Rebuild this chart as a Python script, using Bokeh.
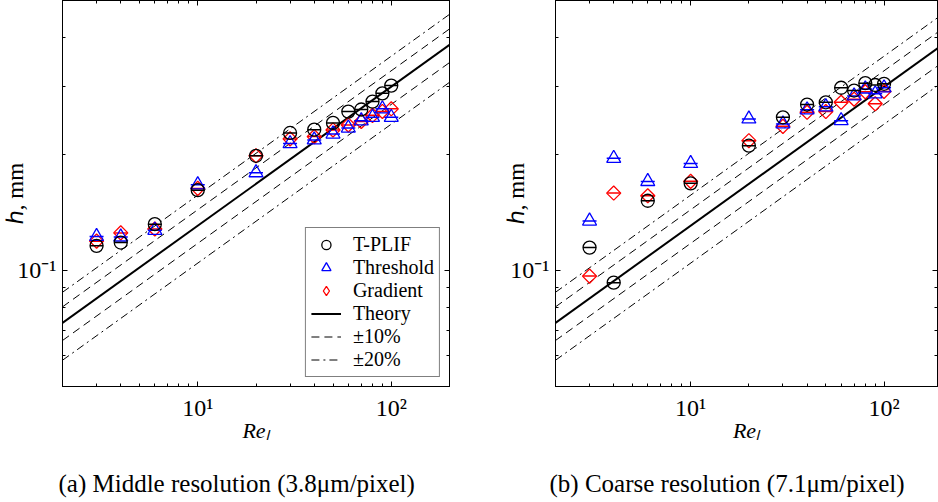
import numpy as np
from bokeh.plotting import figure
from bokeh.models import (FixedTicker, LogAxis, Legend, LegendItem, Range1d, Title)
from bokeh.layouts import row
from bokeh.embed import file_html
from bokeh.resources import INLINE

# Liquid Reynolds numbers of the measured cases
re_l = [3, 4, 6, 10, 20, 30, 40, 50, 60, 70, 80, 90, 100]

# Film thickness h (mm), middle resolution (3.8 um/pixel)
mid_tplif = [0.1157, 0.118, 0.1317, 0.1613, 0.198, 0.2269, 0.2314, 0.2409, 0.2577, 0.261, 0.2736, 0.2874, 0.301]
mid_threshold = [0.1224, 0.122, 0.127, 0.1666, 0.179, 0.213, 0.2177, 0.2255, 0.2337, 0.244, 0.249, 0.262, 0.249]
mid_gradient = [0.119, 0.125, 0.128, 0.163, 0.198, 0.219, 0.222, 0.231, 0.238, 0.243, 0.252, 0.258, 0.262]

# Film thickness h (mm), coarse resolution (7.1 um/pixel)
coarse_tplif = [0.1145, 0.0929, 0.1514, 0.168, 0.2103, 0.2491, 0.2688, 0.2724, 0.2971, 0.2922, 0.3054, 0.302, 0.3042]
coarse_threshold = [0.1342, 0.195, 0.1699, 0.1892, 0.2467, 0.2395, 0.2604, 0.2653, 0.2442, 0.283, 0.295, 0.2866, 0.297]
coarse_gradient = [0.0966, 0.1585, 0.156, 0.170, 0.2167, 0.236, 0.2567, 0.2578, 0.2724, 0.2775, 0.290, 0.270, 0.2907]

# Theoretical film thickness (straight line in log-log space)
theory_re = [2, 200]
theory_h = [0.0731, 0.3836]

# Ticks
x_major = [10, 100]
x_minor = [2, 3, 4, 5, 6, 7, 8, 9, 20, 30, 40, 50, 60, 70, 80, 90, 200]
y_major = [0.1]
y_minor = [0.05, 0.06, 0.07, 0.08, 0.09, 0.2, 0.3, 0.4, 0.5]
x_tick_labels = {10: "10\u00b9", 100: "10\u00b2"}
y_tick_labels = {0.1: "10\u207b\u00b9"}

SERIF = "Liberation Serif"
FRAME_H = 386


def style_axis(ax, ticks, minor, overrides, size, standoff):
    ax.ticker = FixedTicker(ticks=ticks, minor_ticks=minor)
    ax.axis_line_color = "black"
    ax.major_tick_line_color = "black"
    ax.minor_tick_line_color = "black"
    ax.major_tick_in = 5
    ax.major_tick_out = 0
    ax.minor_tick_in = 3
    ax.minor_tick_out = 0
    ax.major_label_text_font = SERIF
    ax.major_label_text_color = "black"
    ax.major_label_text_font_size = size
    ax.major_label_standoff = standoff
    ax.major_label_overrides = overrides


def make_panel(tplif, thresh, grad, width, border_left, border_right, x_end,
               ylabel_standoff, caption, caption_offset, with_legend):
    p = figure(width=width, height=502, x_axis_type="log", y_axis_type="log",
               x_range=Range1d(2, x_end), y_range=Range1d(0.05, 0.5),
               output_backend="svg", toolbar_location=None,
               min_border_left=border_left, min_border_right=border_right,
               min_border_top=0, min_border_bottom=502 - FRAME_H)
    p.grid.visible = False
    p.outline_line_color = "black"
    p.outline_line_width = 1
    p.background_fill_color = "white"
    p.border_fill_color = "white"

    xax = p.xaxis[0]
    yax = p.yaxis[0]
    style_axis(xax, x_major, x_minor, x_tick_labels, "24px", 8)
    style_axis(yax, y_major, y_minor, y_tick_labels, "24px", 6)
    xax.axis_label = "Re\u2097"
    xax.axis_label_text_font = SERIF
    xax.axis_label_text_font_style = "italic"
    xax.axis_label_text_font_size = "22px"
    xax.axis_label_text_color = "black"
    xax.axis_label_standoff = -6
    yax.axis_label = "\u210e, mm"
    yax.axis_label_text_font = SERIF
    yax.axis_label_text_font_style = "normal"
    yax.axis_label_text_font_size = "23px"
    yax.axis_label_text_color = "black"
    yax.axis_label_standoff = ylabel_standoff

    top = LogAxis()
    right = LogAxis()
    style_axis(top, x_major, x_minor, {t: "" for t in x_major}, "1px", 0)
    style_axis(right, y_major, y_minor, {t: "" for t in y_major}, "1px", 0)
    p.add_layout(top, "above")
    p.add_layout(right, "right")

    # blank strip between the axis title and the sub-figure caption
    p.add_layout(Title(text=" ", text_font=SERIF, text_font_size="5px"), "below")
    # sub-figure caption
    p.add_layout(Title(text=caption, align="left", offset=caption_offset,
                       text_font=SERIF, text_font_size="25px", text_font_style="normal",
                       text_color="black"), "below")

    # theory and tolerance bands
    r_theory = p.line(theory_re, theory_h, line_color="black", line_width=2)
    r_p10 = p.line(theory_re, [h * 1.1 for h in theory_h], line_color="black",
                   line_width=1, line_dash="8 5")
    p.line(theory_re, [h * 0.9 for h in theory_h], line_color="black",
           line_width=1, line_dash="8 5")
    r_p20 = p.line(theory_re, [h * 1.2 for h in theory_h], line_color="black",
                   line_width=1, line_dash="8 4 2 4")
    p.line(theory_re, [h * 0.8 for h in theory_h], line_color="black",
           line_width=1, line_dash="8 4 2 4")

    # measurements with error-bar caps
    p.scatter(re_l, grad, marker="square", angle=np.pi / 4, size=10,
              fill_color=None, line_color="red", line_width=1.3)
    p.scatter(re_l, grad, marker="dash", size=13, line_color="red", line_width=1.5)
    r_thr = p.scatter(re_l, thresh, marker="triangle", size=14,
                      fill_color=None, line_color="blue", line_width=1.3)
    p.scatter(re_l, thresh, marker="dash", size=14, line_color="blue", line_width=1.5)
    r_tp = p.scatter(re_l, tplif, marker="circle", size=13,
                     fill_color=None, line_color="black", line_width=1.3)
    p.scatter(re_l, tplif, marker="dash", size=13, line_color="black", line_width=1.5)

    if with_legend:
        # hidden diamond renderer, used only as the legend swatch
        r_grad_key = p.scatter(re_l, grad, marker="diamond", size=14,
                               fill_color=None, line_color="red", line_width=1.3,
                               visible=False)
        legend = Legend(items=[
            LegendItem(label="T-PLIF", renderers=[r_tp]),
            LegendItem(label="Threshold", renderers=[r_thr]),
            LegendItem(label="Gradient", renderers=[r_grad_key]),
            LegendItem(label="Theory", renderers=[r_theory]),
            LegendItem(label="\u00b110%", renderers=[r_p10]),
            LegendItem(label="\u00b120%", renderers=[r_p20]),
        ], location="bottom_right")
        legend.margin = 9
        legend.padding = 5
        legend.spacing = 0
        legend.glyph_width = 30
        legend.glyph_height = 23
        legend.label_height = 23
        legend.label_standoff = 12
        legend.label_text_font = SERIF
        legend.label_text_font_size = "20px"
        legend.label_text_color = "black"
        legend.border_line_color = "black"
        legend.border_line_width = 1
        legend.background_fill_color = "white"
        legend.background_fill_alpha = 1
        legend.inactive_fill_alpha = 0
        p.add_layout(legend)
    return p


left = make_panel(mid_tplif, mid_threshold, mid_gradient, 500, 61, 51, 200, -14,
                  "(a) Middle resolution (3.8\u03bcm/pixel)", -4, True)
right = make_panel(coarse_tplif, coarse_threshold, coarse_gradient, 438, 55, 1, 189, -22,
                   "(b) Coarse resolution (7.1\u03bcm/pixel)", -6, False)

layout = row(left, right, spacing=0)
open("out.html", "w").write(file_html(layout, INLINE))
